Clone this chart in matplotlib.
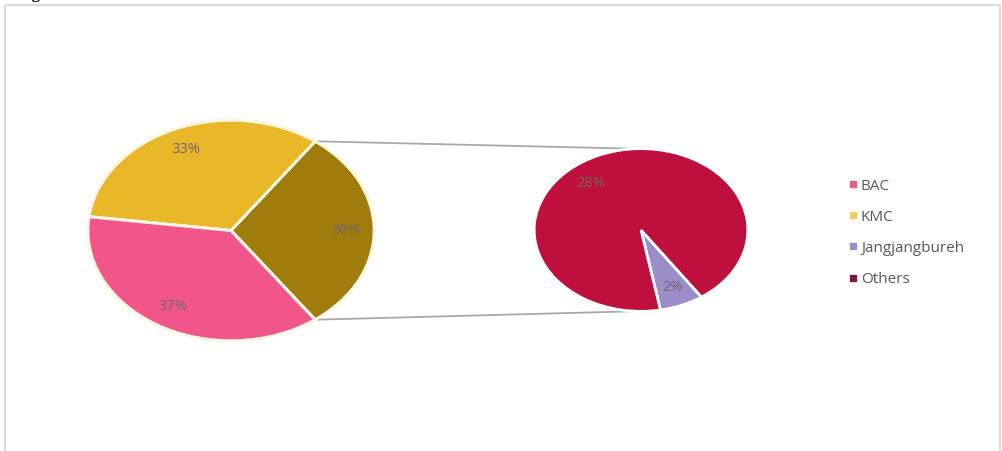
#!/usr/bin/env python3
"""Pie-of-pie chart: share by site, with 'Others' broken out in a second pie."""

import numpy as np
import matplotlib.pyplot as plt
from matplotlib.lines import Line2D
from matplotlib.patches import ConnectionPatch, Rectangle

plt.rcParams["font.family"] = ["Open Sans", "DejaVu Sans"]

# ---------------------------------------------------------------------------
# Data (percent of total)
# ---------------------------------------------------------------------------
main_labels = ["Others", "KMC", "BAC"]
main_values = [30, 33, 37]

sub_labels = ["Jangjangbureh", "Others"]
sub_values = [2, 28]

legend_labels = ["BAC", "KMC", "Jangjangbureh", "Others"]

COLORS = {
    "BAC": "#F0568A",
    "KMC": "#E8B828",
    "Others_group": "#A07C0C",
    "Jangjangbureh": "#9B8DC9",
    "Others": "#BF0F3D",
}
LEGEND_COLORS = ["#E0608E", "#EDCB6A", "#9A90C4", "#7E1838"]
LABEL_COLOR = "#766464"

W, H = 1002, 451
fig = plt.figure(figsize=(W / 100, H / 100), dpi=100)


def px_axes(cx, cy, rx, ry):
    """Axes box in figure fraction from a centre / radii given in pixels (top-left origin)."""
    return fig.add_axes([(cx - rx) / W, (H - cy - ry) / H, 2 * rx / W, 2 * ry / H])


# ---------------------------------------------------------------------------
# Main pie
# ---------------------------------------------------------------------------
ax1 = px_axes(231, 230.5, 146, 112.5)
group_share = main_values[0]
start1 = -360 * group_share / 100 / 2
c1 = [COLORS["Others_group"], COLORS["KMC"], COLORS["BAC"]]
w1, t1, a1 = ax1.pie(main_values, colors=c1, startangle=start1, counterclock=True,
                     autopct=lambda p: f"{p:.0f}%", pctdistance=0.8,
                     wedgeprops=dict(edgecolor="#FFF6E2", linewidth=2.2),
                     textprops=dict(color=LABEL_COLOR, fontsize=10.5))
ax1.set_xlim(-1.02, 1.02)
ax1.set_ylim(-1.02, 1.02)
ax1.set_aspect("auto")
ax1.axis("off")

# ---------------------------------------------------------------------------
# Secondary pie (breakdown of 'Others')
# ---------------------------------------------------------------------------
ax2 = px_axes(641, 230, 109, 83)
sub_total = sum(sub_values)
c2 = [COLORS["Jangjangbureh"], COLORS["Others"]]
w2, t2, a2 = ax2.pie(sub_values, colors=c2, startangle=-79.5, counterclock=True,
                     autopct=lambda p: f"{p * sub_total / 100:.0f}%", pctdistance=0.77,
                     wedgeprops=dict(edgecolor="white", linewidth=2),
                     textprops=dict(color=LABEL_COLOR, fontsize=10.5))
ax2.set_xlim(-1.02, 1.02)
ax2.set_ylim(-1.02, 1.02)
ax2.set_aspect("auto")
ax2.axis("off")
# the big label sits towards the upper left in the original
a2[1].set_position((-0.47, 0.57))

# ---------------------------------------------------------------------------
# Connector lines
# ---------------------------------------------------------------------------
half = np.deg2rad(360 * group_share / 100 / 2)
for sign in (1, -1):
    con = ConnectionPatch(xyA=(np.cos(half), sign * np.sin(half)), coordsA=ax1.transData,
                          xyB=(-0.1, sign * 1.0), coordsB=ax2.transData,
                          color="#A8A8A8", linewidth=1.3, zorder=-1)
    fig.add_artist(con)

# ---------------------------------------------------------------------------
# Legend
# ---------------------------------------------------------------------------
handles = [Line2D([], [], linestyle="none", marker="s", markersize=4.5,
                  markerfacecolor=c, markeredgecolor=c) for c in LEGEND_COLORS]
leg = fig.legend(handles, legend_labels, loc="upper left",
                 bbox_to_anchor=(835 / W, 1 - 165 / H), frameon=False,
                 handlelength=0.55, handletextpad=0.25, labelspacing=1.05,
                 fontsize=11, labelcolor="#595959")

# ---------------------------------------------------------------------------
# Frame and clipped caption
# ---------------------------------------------------------------------------
fig.add_artist(Rectangle((5 / W, -0.05), (W - 7) / W, 1 - 5 / H + 0.05,
                         transform=fig.transFigure, fill=False,
                         edgecolor="#D4D4D4", linewidth=1.2, zorder=-2))
fig.text(18 / W, 1 + 1.5 / H, "Figure", fontsize=12, fontweight="bold",
         family="Liberation Serif", va="baseline", ha="left")

fig.savefig("out.png", dpi=100)
